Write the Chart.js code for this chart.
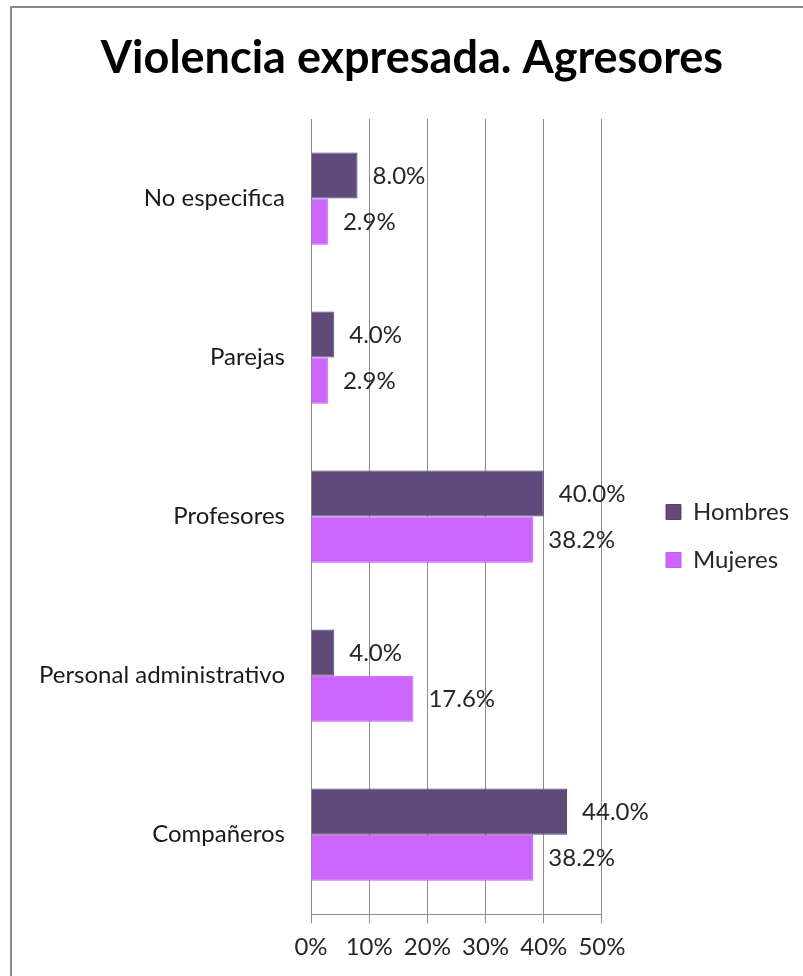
<!DOCTYPE html>
<html>
<head>
<meta charset="utf-8">
<script src="https://cdn.jsdelivr.net/npm/chart.js@4.4.0/dist/chart.umd.min.js"></script>
<style>
  html, body { margin: 0; padding: 0; background: #fff; }
  #wrap { position: relative; width: 803px; height: 976px; overflow: hidden; }
  #frame { position: absolute; left: 10px; top: 6px; width: 900px; height: 1100px;
           border: 2px solid #8a8a8a; pointer-events: none; }
</style>
</head>
<body>
<div id="wrap">
  <canvas id="myChart" width="803" height="976"></canvas>
  <div id="frame"></div>
</div>
<script>
const categories = ['No especifica', 'Parejas', 'Profesores', 'Personal administrativo', 'Compañeros'];
const hombres = [8.0, 4.0, 40.0, 4.0, 44.0];
const mujeres = [2.9, 2.9, 38.2, 17.6, 38.2];
const xTicks = [0, 10, 20, 30, 40, 50];

const FONT = 'Lato, "Open Sans", sans-serif';
const PAD_L = 20;

// etiquetas de valor a la derecha de cada barra
const valueLabels = {
  id: 'valueLabels',
  afterDatasetsDraw(chart) {
    const ctx = chart.ctx;
    ctx.save();
    ctx.font = '24px ' + FONT;
    ctx.fillStyle = '#262626';
    ctx.textBaseline = 'middle';
    ctx.textAlign = 'left';
    chart.data.datasets.forEach(function (ds, i) {
      chart.getDatasetMeta(i).data.forEach(function (bar, j) {
        ctx.fillText(ds.data[j].toFixed(1) + '%', bar.x + 15, bar.y + 1);
      });
    });
    ctx.restore();
  }
};

// coloca leyenda y titulo como en el original
const placeBoxes = {
  id: 'placeBoxes',
  afterLayout(chart) {
    const l = chart.legend;
    const pad = l.options.labels.padding;
    const dx = 666 - (l.left + pad);
    l.left += dx; l.right += dx;
    const colH = l.columnSizes[0].height;
    const y0 = (l.top + pad + l.bottom - colH) / 2;
    const dy = 500 - y0;
    l.top += dy; l.bottom += dy;

    const t = chart.titleBlock;
    const tx = 412 - (t.left + t.right) / 2;
    t.left += tx; t.right += tx;
  }
};

document.addEventListener("DOMContentLoaded", function() {
  var ctx = document.getElementById("myChart").getContext('2d');
  var myChart = new Chart(ctx, {
    type: 'bar',
    data: {
      labels: categories,
      datasets: [{
        label: 'Hombres',
        data: hombres,
        backgroundColor: '#604a7b',
        borderColor: '#56436f',
        borderWidth: 1,
        categoryPercentage: 0.58,
        barPercentage: 1.0
      }, {
        label: 'Mujeres',
        data: mujeres,
        backgroundColor: '#cc66ff',
        borderColor: '#c25cf5',
        borderWidth: 1,
        categoryPercentage: 0.58,
        barPercentage: 1.0
      }]
    },
    options: {
      indexAxis: 'y',
      responsive: false,
      animation: false,
      layout: { padding: { left: PAD_L, right: 44, top: 0, bottom: 4 } },
      plugins: {
        title: {
          display: true,
          text: 'Violencia expresada. Agresores',
          color: '#000',
          font: { family: FONT, size: 45, weight: 'bold' },
          padding: { top: 31, bottom: 34 }
        },
        legend: {
          position: 'right',
          labels: {
            boxWidth: 15,
            boxHeight: 15,
            padding: 24,
            color: '#262626',
            font: { family: FONT, size: 24 }
          }
        },
        tooltip: { enabled: false }
      },
      scales: {
        x: {
          min: 0,
          max: 50,
          afterBuildTicks: function (scale) {
            scale.ticks = xTicks.map(function (v) { return { value: v }; });
          },
          ticks: {
            color: '#262626',
            font: { family: FONT, size: 24 },
            padding: 10,
            callback: function (v) { return v + '%'; }
          },
          grid: { color: '#8c8c8c', tickLength: 9, tickColor: '#8c8c8c' },
          border: { color: '#8c8c8c' }
        },
        y: {
          afterFit: function (scale) { scale.width = 311 - PAD_L; },
          ticks: {
            color: '#1a1a1a',
            font: { family: FONT, size: 24 },
            padding: 18
          },
          grid: { display: false },
          border: { color: '#8c8c8c' }
        }
      }
    },
    plugins: [valueLabels, placeBoxes]
  });
});
</script>
</body>
</html>
